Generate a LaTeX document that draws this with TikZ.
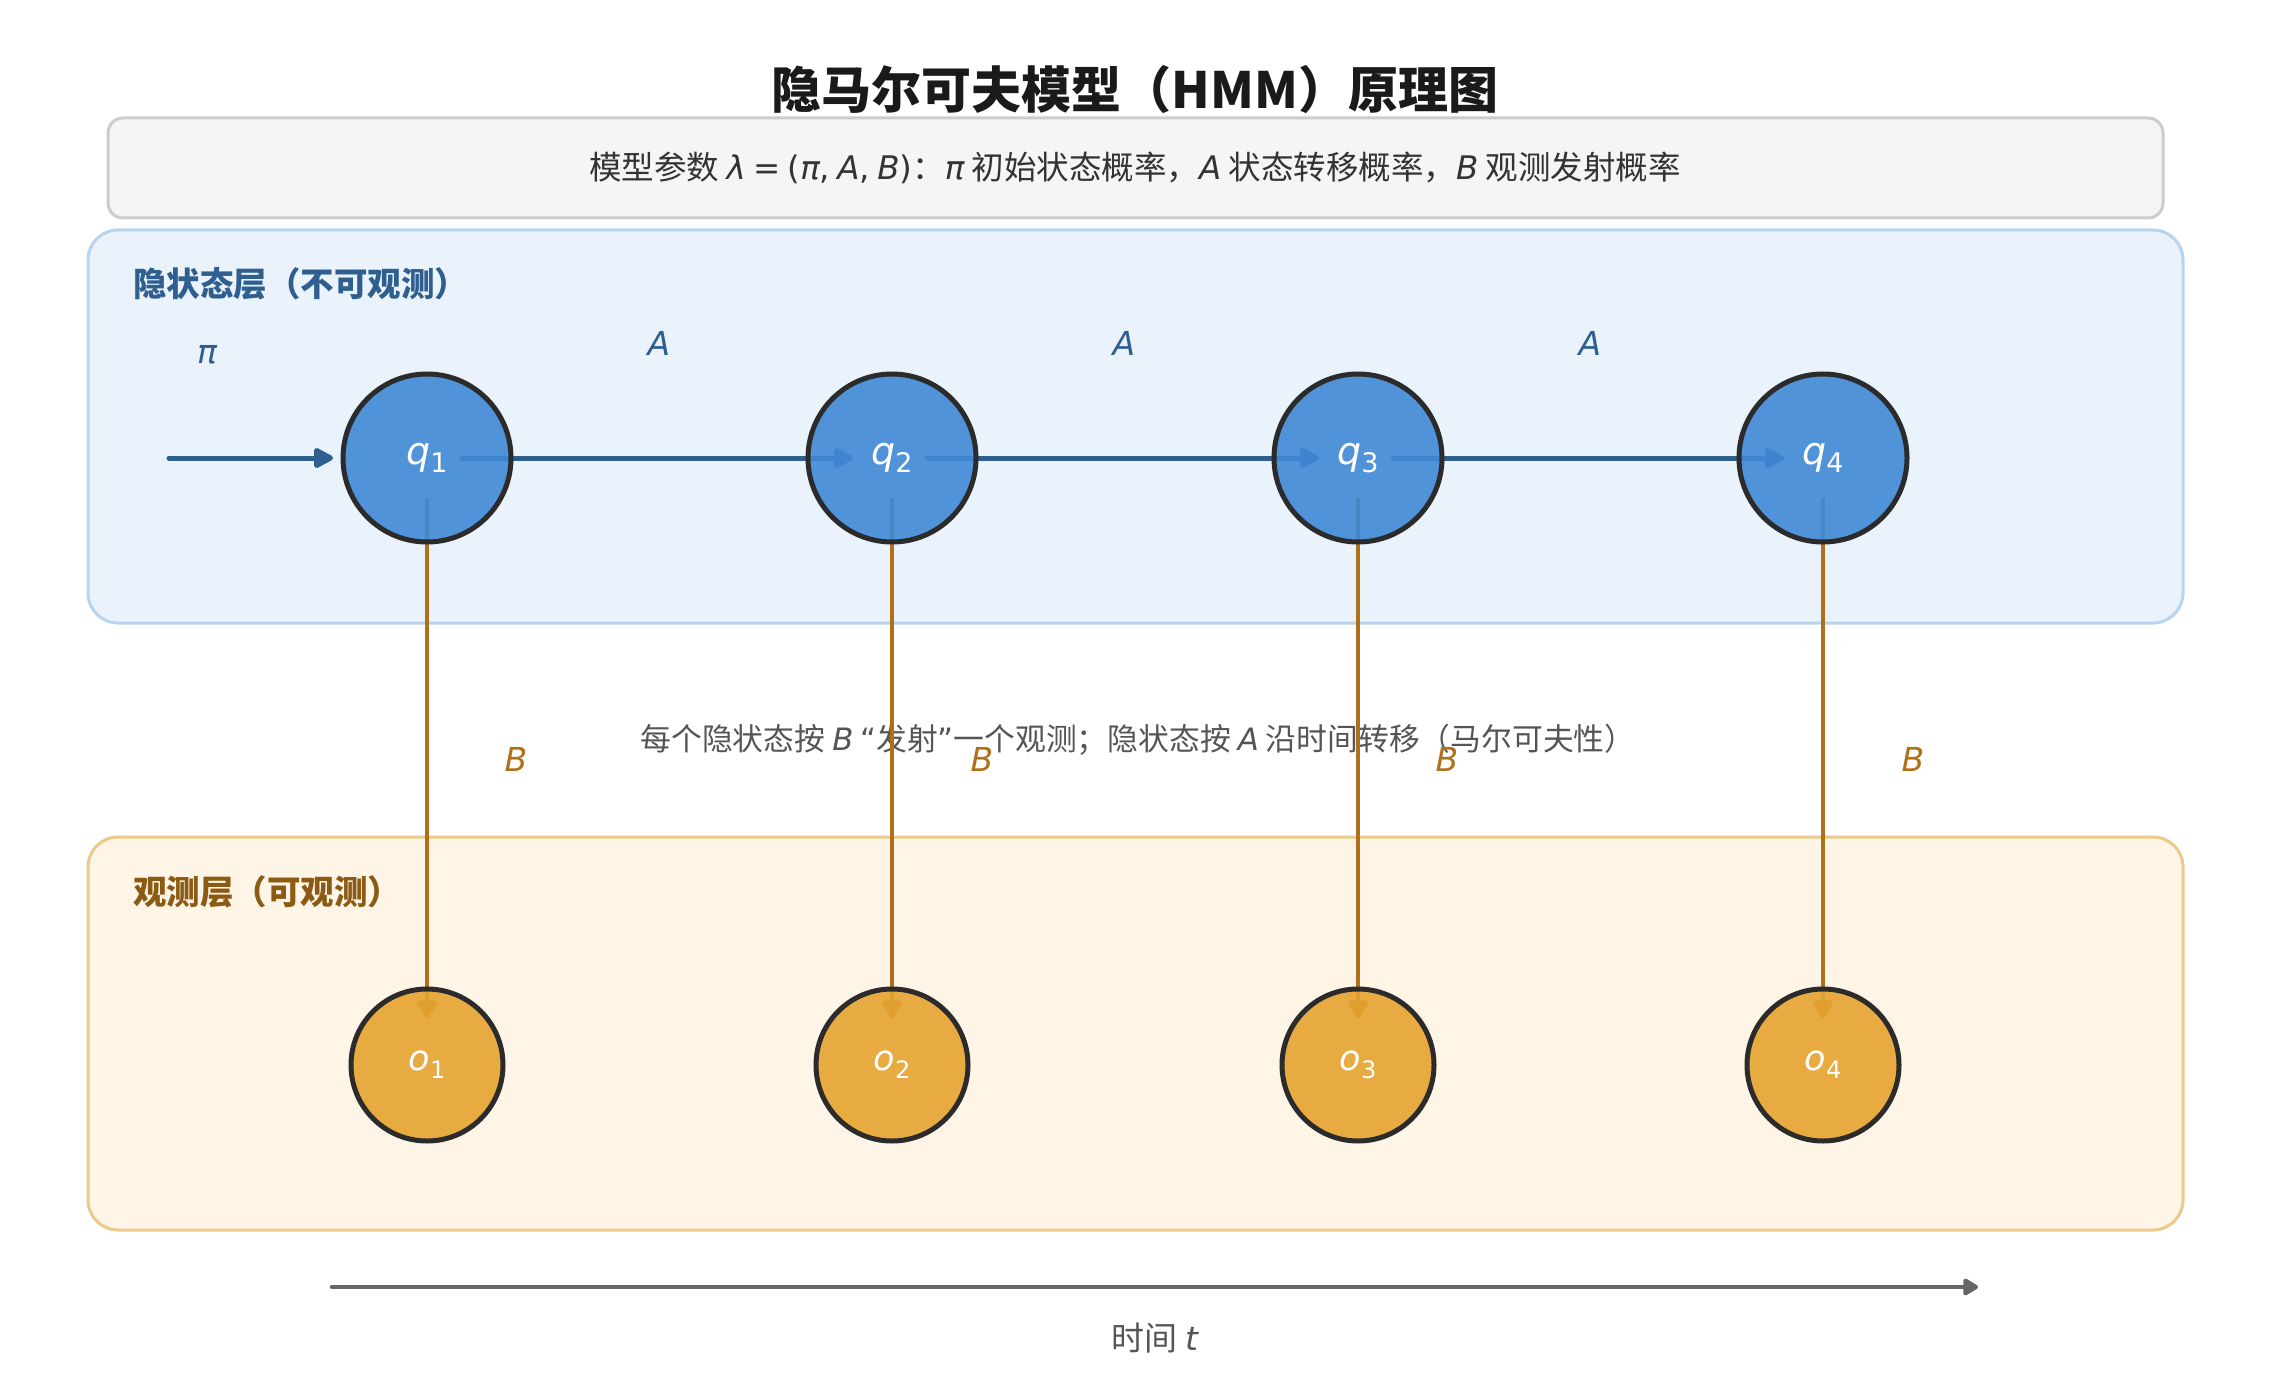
\documentclass[tikz,border=0pt]{standalone}
\usepackage{fontspec}
\setmainfont{Noto Sans CJK SC}
\newfontfamily\dv{DejaVu Sans}
\usetikzlibrary{arrows.meta,calc}
\definecolor{titlec}{HTML}{1A1A1A}
\definecolor{pfill}{HTML}{F5F5F5}
\definecolor{pline}{HTML}{CCCCCC}
\definecolor{ptext}{HTML}{333333}
\definecolor{hfill}{HTML}{EAF2FB}
\definecolor{hline}{HTML}{B8D3EE}
\definecolor{hdark}{HTML}{2E5F8F}
\definecolor{qfill}{HTML}{4089D6}
\definecolor{ofillc}{HTML}{FEF5E7}
\definecolor{oline}{HTML}{EBC98A}
\definecolor{odark}{HTML}{8B5A14}
\definecolor{emit}{HTML}{B0701A}
\definecolor{ofill}{HTML}{E5A430}
\definecolor{nodeline}{HTML}{2B2B2B}
\definecolor{midtext}{HTML}{555555}
\definecolor{timec}{HTML}{666666}
\newcommand\vi[1]{{\dv\itshape #1}}
\newcommand\qsub[2]{{\dv\itshape #1}\raisebox{-0.22em}{\dv\fontsize{27}{27}\selectfont #2}}
\newcommand\osub[2]{{\dv\itshape #1}\raisebox{-0.22em}{\dv\fontsize{24}{24}\selectfont #2}}
\begin{document}
\begin{tikzpicture}[x=1pt,y=-1pt,
  txt/.style={inner sep=0pt, font=\fontsize{32.5}{38}\selectfont},
  qnode/.style={circle, draw=nodeline, line width=5pt, fill=qfill, fill opacity=0.9, text opacity=1, minimum size=168pt, inner sep=0pt, text=white, font=\fontsize{38}{42}\selectfont},
  onode/.style={circle, draw=nodeline, line width=5pt, fill=ofill, fill opacity=0.9, text opacity=1, minimum size=152pt, inner sep=0pt, text=white, font=\fontsize{35}{40}\selectfont},
  trans/.style={draw=hdark, line width=5pt, line cap=round, -{Triangle[length=22pt,width=22pt,round]}},
  emitarrow/.style={draw=emit, line width=4.5pt, -{Triangle[length=20pt,width=22pt,round]}},
  timearrow/.style={draw=timec, line width=4.5pt, line cap=round, -{Triangle[length=17pt,width=19pt,round]}},
  layerbox/.style={line width=3pt, rounded corners=30pt},
  lbl/.style={inner sep=0pt, font=\fontsize{33}{38}\selectfont}
]
\useasboundingbox (0,0) rectangle (2271,1380);
\fill[white] (0,0) rectangle (2271,1380);

% title
\node[inner sep=0pt, font=\fontsize{50}{58}\selectfont\bfseries, text=titlec] (title) at (1135,90) {隐马尔可夫模型（HMM）原理图};

% parameter box
\draw[fill=pfill, draw=pline, line width=3pt, rounded corners=15pt] (108,118) rectangle (2163,218);
\node[txt, text=ptext] (params) at (1135,168) {模型参数 \vi{λ} {\dv =} {\dv (}\vi{π}{\dv ,} \vi{A}{\dv ,} \vi{B}{\dv )}：\vi{π} 初始状态概率，\vi{A} 状态转移概率，\vi{B} 观测发射概率};

% layer boxes
\draw[layerbox, fill=hfill, draw=hline] (88,230) rectangle (2183,623);
\draw[layerbox, fill=ofillc, draw=oline] (88,837) rectangle (2183,1230);
\node[inner sep=0pt, anchor=west, text=hdark, font=\fontsize{33.5}{38}\selectfont\bfseries] (hlabel) at (133,284) {隐状态层（不可观测）};
\node[inner sep=0pt, anchor=west, text=odark, font=\fontsize{33.5}{38}\selectfont\bfseries] (olabel) at (133,892) {观测层（可观测）};

% middle text
\node[inner sep=0pt, font=\fontsize{30.8}{36}\selectfont, text=midtext] (mid) at (1138,740) {每个隐状态按 \vi{B} {\dv “}发射{\dv ”}一个观测；隐状态按 \vi{A} 沿时间转移（马尔可夫性）};

% node positions (coordinates first, lines behind nodes)
\coordinate (cq1) at (427,458);
\coordinate (cq2) at (892,458);
\coordinate (cq3) at (1358,458);
\coordinate (cq4) at (1823,458);
\coordinate (co1) at (427,1065);
\coordinate (co2) at (892,1065);
\coordinate (co3) at (1358,1065);
\coordinate (co4) at (1823,1065);
\coordinate (start) at (169,458);

% transitions
\draw[trans] (start) -- ($(cq1)+(-94,0)$);
\draw[trans] ($(cq1)+(35,0)$) -- ($(cq2)+(-39,0)$);
\draw[trans] ($(cq2)+(35,0)$) -- ($(cq3)+(-39,0)$);
\draw[trans] ($(cq3)+(35,0)$) -- ($(cq4)+(-39,0)$);

% emissions
\foreach \i in {1,2,3,4}{
  \draw[emitarrow] ($(cq\i)+(0,40)$) -- ($(co\i)+(0,-47)$);
}

% nodes
\node[qnode] (q1) at (cq1) {\qsub{q}{1}};
\node[qnode] (q2) at (cq2) {\qsub{q}{2}};
\node[qnode] (q3) at (cq3) {\qsub{q}{3}};
\node[qnode] (q4) at (cq4) {\qsub{q}{4}};
\node[onode] (o1) at (co1) {\osub{o}{1}};
\node[onode] (o2) at (co2) {\osub{o}{2}};
\node[onode] (o3) at (co3) {\osub{o}{3}};
\node[onode] (o4) at (co4) {\osub{o}{4}};

% labels
\node[lbl, text=hdark] (pilab) at (207,355) {\vi{π}};
\node[lbl, text=hdark] (a1) at (659,343) {\vi{A}};
\node[lbl, text=hdark] (a2) at (1124,343) {\vi{A}};
\node[lbl, text=hdark] (a3) at (1590,343) {\vi{A}};
\node[lbl, text=emit] (b1) at (516,759) {\vi{B}};
\node[lbl, text=emit] (b2) at (982,759) {\vi{B}};
\node[lbl, text=emit] (b3) at (1447,759) {\vi{B}};
\node[lbl, text=emit] (b4) at (1913,759) {\vi{B}};

% time axis
\coordinate (t0) at (332,1287);
\coordinate (t1) at (1978,1287);
\draw[timearrow] (t0) -- (t1);
\node[inner sep=0pt, font=\fontsize{33}{38}\selectfont, text=midtext] (tlab) at (1155,1338) {时间 \vi{t}};
\end{tikzpicture}
\end{document}
